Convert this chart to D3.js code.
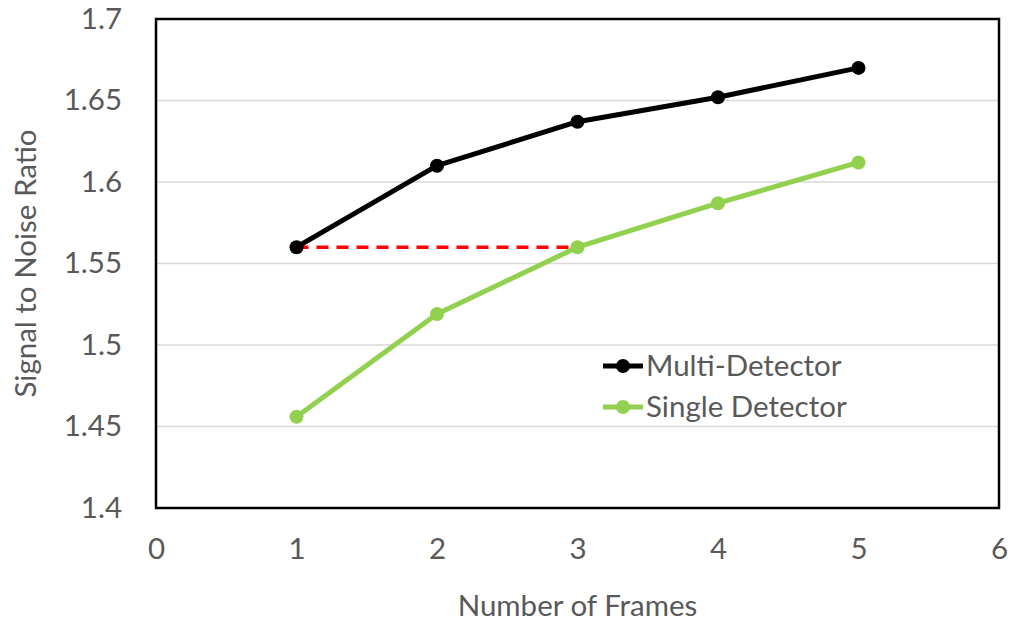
<!DOCTYPE html>
<html>
<head>
<meta charset="utf-8">
<script src="https://cdn.jsdelivr.net/npm/d3@7"></script>
<style>
  body { margin: 0; background: #fff; }
  text { font-family: Lato, "Open Sans", sans-serif; fill: #595959; }
</style>
</head>
<body>
<div id="chart"></div>
<script>
// data
var frames = [1, 2, 3, 4, 5];
var multiDetector = [1.560, 1.610, 1.637, 1.652, 1.670];
var singleDetector = [1.456, 1.519, 1.560, 1.587, 1.612];
var seriesNames = ["Multi-Detector", "Single Detector"];
var xTicks = [0, 1, 2, 3, 4, 5, 6];
var yTicks = [1.4, 1.45, 1.5, 1.55, 1.6, 1.65, 1.7];
// dashed reference: multi-detector at 1 frame matched by single at 3 frames
var refFrames = [1, 3];
var refValue = 1.56;

var width = 1011, height = 624;
var margin = {top: 19, right: 12, bottom: 116, left: 156};
var fontSize = 29.5;

var svg = d3.select("#chart")
  .append("svg")
  .attr("width", width)
  .attr("height", height);

var x = d3.scaleLinear().domain([0, 6]).range([margin.left, width - margin.right]);
var y = d3.scaleLinear().domain([1.4, 1.7]).range([height - margin.bottom, margin.top]);

// gridlines
svg.append("g")
  .selectAll("line")
  .data(yTicks.slice(1, -1)).enter()
  .append("line")
  .attr("x1", x(0)).attr("x2", x(6))
  .attr("y1", function(d){ return y(d); })
  .attr("y2", function(d){ return y(d); })
  .attr("stroke", "#d9d9d9")
  .attr("stroke-width", 1.5);

// plot frame
svg.append("rect")
  .attr("x", x(0)).attr("y", y(1.7))
  .attr("width", x(6) - x(0))
  .attr("height", y(1.4) - y(1.7))
  .attr("fill", "none")
  .attr("stroke", "#000")
  .attr("stroke-width", 2.5);

// y tick labels
var yAxis = svg.append("g")
  .attr("transform", "translate(" + (x(0) - 31) + ",0)")
  .call(d3.axisLeft(y).tickValues(yTicks).tickSize(0).tickFormat(d3.format("")));
yAxis.select(".domain").remove();
yAxis.selectAll("text")
  .attr("font-size", fontSize)
  .attr("font-family", "Lato, sans-serif")
  .attr("fill", "#595959");

// x tick labels
var xAxis = svg.append("g")
  .attr("transform", "translate(0," + (y(1.4) + 27) + ")")
  .call(d3.axisBottom(x).tickValues(xTicks).tickSize(0).tickFormat(d3.format("d")));
xAxis.select(".domain").remove();
xAxis.selectAll("text")
  .attr("font-size", fontSize)
  .attr("font-family", "Lato, sans-serif")
  .attr("fill", "#595959");

// axis titles
svg.append("text")
  .attr("x", (x(0) + x(6)) / 2)
  .attr("y", 616)
  .attr("text-anchor", "middle")
  .attr("font-size", fontSize)
  .text("Number of Frames");

svg.append("text")
  .attr("transform", "translate(36," + ((y(1.4) + y(1.7)) / 2) + ") rotate(-90)")
  .attr("text-anchor", "middle")
  .attr("font-size", fontSize)
  .text("Signal to Noise Ratio");

// reference dashed line
svg.append("line")
  .attr("x1", x(refFrames[0])).attr("x2", x(refFrames[1]))
  .attr("y1", y(refValue)).attr("y2", y(refValue))
  .attr("stroke", "#ff0000")
  .attr("stroke-width", 3.5)
  .attr("stroke-dasharray", "12,8");

var line = d3.line()
  .x(function(d){ return x(d[0]); })
  .y(function(d){ return y(d[1]); });

var series = [
  {name: seriesNames[0], color: "#000000", values: d3.zip(frames, multiDetector)},
  {name: seriesNames[1], color: "#92d050", values: d3.zip(frames, singleDetector)}
];

series.forEach(function(s){
  svg.append("path")
    .datum(s.values)
    .attr("d", line)
    .attr("fill", "none")
    .attr("stroke", s.color)
    .attr("stroke-width", 5)
    .attr("stroke-linejoin", "round");

  svg.append("g")
    .selectAll("circle")
    .data(s.values).enter()
    .append("circle")
    .attr("cx", function(d){ return x(d[0]); })
    .attr("cy", function(d){ return y(d[1]); })
    .attr("r", 7)
    .attr("fill", s.color);
});

// legend
var legend = svg.append("g")
  .selectAll(".legend")
  .data(series).enter()
  .append("g")
  .attr("transform", function(d, i){ return "translate(603," + (366 + i * 41) + ")"; });

legend.append("line")
  .attr("x1", 0).attr("x2", 40)
  .attr("stroke", function(d){ return d.color; })
  .attr("stroke-width", 5);

legend.append("circle")
  .attr("cx", 20).attr("r", 7)
  .attr("fill", function(d){ return d.color; });

legend.append("text")
  .attr("x", 43)
  .attr("dy", "0.35em")
  .attr("font-size", fontSize)
  .text(function(d){ return d.name; });
</script>
</body>
</html>
